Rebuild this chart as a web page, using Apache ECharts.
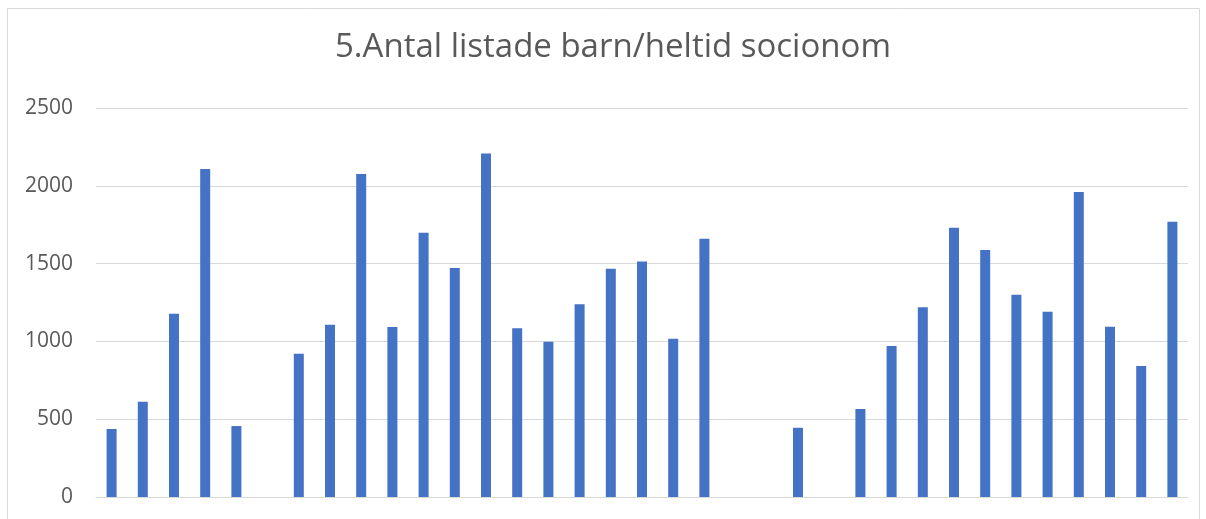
<!DOCTYPE html>
<html>
<head>
<meta charset="utf-8">
<script src="https://cdn.jsdelivr.net/npm/echarts@6/dist/echarts.min.js"></script>
<style>
html,body{margin:0;padding:0;background:#fff;}
#chart{width:1206px;height:519px;}
</style>
</head>
<body>
<div id="chart"></div>
<script>
const titleText = "5.Antal listade barn/heltid socionom";
const categories = Array.from({length: 35}, (_, i) => String(i + 1));
const values = [437, 612, 1178, 2108, 456, null, 921, 1107, 2076, 1093,
  1699, 1472, 2208, 1084, 998, 1238, 1467, 1514, 1017, 1660,
  null, null, 445, null, 565, 970, 1219, 1731, 1587, 1300,
  1191, 1960, 1094, 842, 1769];
const yTicks = [0, 500, 1000, 1500, 2000, 2500];

const chart = echarts.init(document.getElementById('chart'), null, {renderer: 'canvas'});
chart.setOption({
  animation: false,
  backgroundColor: '#ffffff',
  graphic: [{
    type: 'rect',
    shape: {x: 7.5, y: 8.5, width: 1192, height: 600},
    style: {fill: 'none', stroke: '#d9d9d9', lineWidth: 1},
    silent: true
  }],
  title: {
    text: titleText,
    left: 335,
    top: 31,
    padding: 0,
    textStyle: {fontFamily: 'Open Sans', fontWeight: 'normal', fontSize: 33, color: '#595959'}
  },
  grid: {left: 96, right: 18, top: 108, bottom: 22, containLabel: false},
  xAxis: {
    type: 'category',
    data: categories,
    axisLine: {show: true, lineStyle: {color: '#d9d9d9', width: 1}},
    axisTick: {show: false},
    axisLabel: {show: false}
  },
  yAxis: {
    type: 'value',
    min: yTicks[0],
    max: yTicks[yTicks.length - 1],
    interval: 500,
    axisLine: {show: false},
    axisTick: {show: false},
    splitLine: {lineStyle: {color: '#d9d9d9', width: 1}},
    axisLabel: {margin: 23, fontFamily: 'Open Sans', fontSize: 21, color: '#595959',
      formatter: function (v) { return String(v); }}
  },
  series: [{
    type: 'bar',
    data: values,
    barWidth: 10,
    itemStyle: {color: '#4472c4'}
  }]
});
</script>
</body>
</html>
